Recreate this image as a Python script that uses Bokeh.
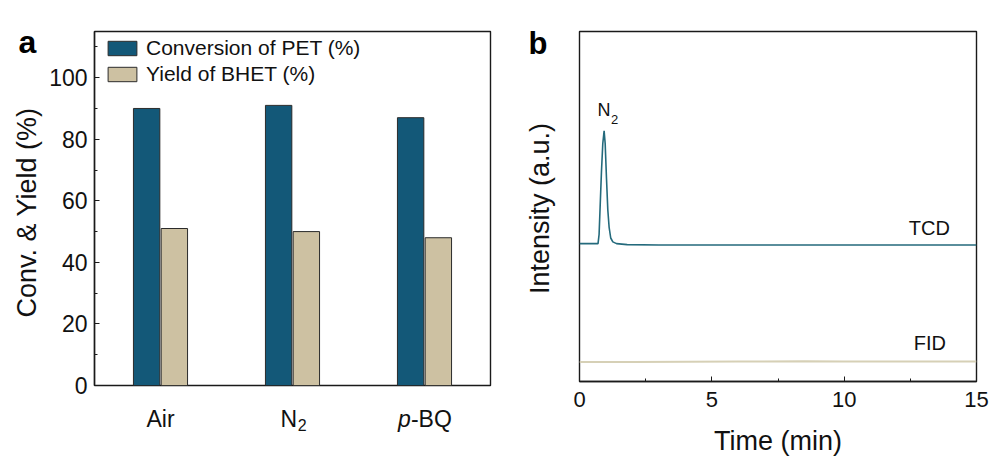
import math
from bokeh.plotting import figure
from bokeh.layouts import row, column
from bokeh.models import (Range1d, SingleIntervalTicker, Legend,
                          LegendItem, Label, ColumnDataSource)
from bokeh.core.properties import value
from bokeh.embed import file_html
from bokeh.resources import INLINE

# ---- panel a: conversion / yield under different atmospheres ----
conditions = ["Air", "N2", "p-BQ"]
conversion_pet = [90, 91, 87]
yield_bhet = [51, 50, 48]

# ---- panel b: GC traces of the gas phase ----
tcd_time = [0, 0.70, 0.74, 0.78, 0.83, 0.88, 0.93, 0.97, 1.02, 1.07, 1.12, 1.18, 1.26, 1.40, 1.80, 3.0, 15]
tcd_signal = [0.394, 0.394, 0.42, 0.50, 0.60, 0.68, 0.716, 0.68, 0.58, 0.49, 0.44, 0.41, 0.399, 0.394, 0.391, 0.390, 0.390]
fid_time = [0, 2.0, 6.0, 8.5, 10.0, 15]
fid_signal = [0.056, 0.056, 0.057, 0.058, 0.057, 0.057]

FONT = "Liberation Sans"
INK = "#111111"
BLUE = "#135878"
TAN = "#cdc1a2"
EDGE = "#2b2b2b"
TCD_COLOR = "#246a7c"
FID_COLOR = "#d6d0b6"
H = 458
PA_H = 398          # height of the bar-chart canvas
CAT_H = H - PA_H    # strip holding the category names


def strip(width, height, **kw):
    """Axis-less figure used to hold text that sits outside a plot frame."""
    s = figure(width=width, height=height, output_backend="svg", toolbar_location=None,
               title=None, x_axis_location=None, y_axis_location=None,
               min_border_top=0, min_border_bottom=0, frame_align=False, **kw)
    s.outline_line_color = None
    s.grid.visible = False
    s.border_fill_color = "white"
    s.background_fill_color = "white"
    return s


def style_frame(p, tick_size):
    p.outline_line_color = "#1a1a1a"
    p.outline_line_width = 1.4
    p.grid.visible = False
    p.background_fill_color = "white"
    p.border_fill_color = "white"
    for ax in p.axis:
        ax.axis_line_color = "#1a1a1a"
        ax.axis_line_width = 1.4
        ax.major_tick_line_color = "#1a1a1a"
        ax.minor_tick_line_color = "#1a1a1a"
        ax.major_tick_out = 0
        ax.minor_tick_out = 0
        ax.major_tick_in = 5
        ax.minor_tick_in = 3
        ax.major_label_text_font = FONT
        ax.major_label_text_font_size = tick_size
        ax.major_label_text_color = INK
        ax.axis_label_text_font = FONT
        ax.axis_label_text_font_size = "27px"
        ax.axis_label_text_font_style = "normal"
        ax.axis_label_text_color = INK


# ================= panel a =================
pa = figure(width=452, height=PA_H, output_backend="svg", toolbar_location=None, title=None,
            x_range=Range1d(0, 3), y_range=Range1d(0, 115),
            min_border_left=50, min_border_right=6, min_border_top=31, min_border_bottom=PA_H - 385)
style_frame(pa, "23px")
pa.xaxis.visible = False

centers = [i + 0.5 for i in range(len(conditions))]
src = ColumnDataSource(dict(
    x_conv=[c - 0.105 for c in centers],
    x_yield=[c + 0.105 for c in centers],
    conv=conversion_pet,
    yld=yield_bhet,
))
r_conv = pa.vbar(x="x_conv", top="conv", width=0.2, source=src,
                 fill_color=BLUE, line_color=EDGE, line_width=1)
r_yield = pa.vbar(x="x_yield", top="yld", width=0.2, source=src,
                  fill_color=TAN, line_color=EDGE, line_width=1)

pa.yaxis.ticker = SingleIntervalTicker(interval=20, num_minor_ticks=2)
pa.yaxis.major_label_standoff = 7

legend = Legend(items=[LegendItem(label="Conversion of PET (%)", renderers=[r_conv]),
                       LegendItem(label="Yield of BHET (%)", renderers=[r_yield])],
                location=(6, 295), padding=4, spacing=2,
                glyph_width=36, glyph_height=18, label_standoff=6,
                label_text_font=FONT, label_text_font_size="21px",
                label_text_color=INK, label_height=18,
                border_line_alpha=0, background_fill_alpha=0)
pa.add_layout(legend)

# category labels under panel a (subscript and italic parts drawn separately)
base = CAT_H - (418 - PA_H)
cat_strip = strip(452, CAT_H, x_range=pa.x_range, y_range=Range1d(0, CAT_H),
                  min_border_left=50, min_border_right=6)
cat_main = ColumnDataSource(dict(x=centers, y=[base] * 3, text=["Air", "N", "-BQ"],
                                 dx=[0, 4.5, -13.6], align=["center", "right", "left"]))
cat_strip.text(x="x", y="y", text="text", x_offset="dx", text_align="align", source=cat_main,
               text_font=value(FONT), text_font_size="23px", text_color=INK,
               text_baseline="alphabetic")
cat_strip.text(x=[centers[1]], y=[base - 6.7], text=["2"], x_offset=5.3, text_align="left",
               text_font=value(FONT), text_font_size="16px", text_color=INK,
               text_baseline="alphabetic")
cat_strip.text(x=[centers[2]], y=[base], text=["p"], x_offset=-13.6, text_align="right",
               text_font=value(FONT), text_font_size="23px", text_font_style="italic",
               text_color=INK, text_baseline="alphabetic")

# panel letter and y title to the left of panel a
left_a = strip(44, H, x_range=Range1d(0, 44), y_range=Range1d(0, H),
               min_border_left=0, min_border_right=0)
left_a.text(x=[27], y=[H - 41], text=["a"], text_align="center", text_baseline="alphabetic",
            text_font=value(FONT), text_font_size="32px", text_font_style="bold", text_color="black")
left_a.text(x=[26], y=[H - 212], text=["Conv. & Yield (%)"], angle=math.pi / 2,
            text_align="center", text_baseline="middle",
            text_font=value(FONT), text_font_size="27px", text_color=INK)

# ================= panel b =================
pb = figure(width=436, height=H, output_backend="svg", toolbar_location=None, title=None,
            x_range=Range1d(0, 15), y_range=Range1d(0, 1),
            min_border_left=23, min_border_right=16, min_border_top=31, min_border_bottom=73)
style_frame(pb, "22px")
pb.yaxis.visible = False

pb.line(fid_time, fid_signal, line_color=FID_COLOR, line_width=2)
pb.line(tcd_time, tcd_signal, line_color=TCD_COLOR, line_width=1.6)

pb.xaxis.ticker = SingleIntervalTicker(interval=5, num_minor_ticks=2)
pb.xaxis.major_label_standoff = 10
pb.xaxis.axis_label = "Time (min)"
pb.xaxis.axis_label_standoff = 16

ann_kw = dict(text_font=FONT, text_color=INK)
pb.add_layout(Label(x=0.93, y=0.746, text="N", text_align="right", x_offset=6.3,
                    text_font_size="18px", **ann_kw))
pb.add_layout(Label(x=0.93, y=0.746, text="2", text_align="left", x_offset=7.0, y_offset=-4,
                    text_font_size="13px", **ann_kw))
pb.add_layout(Label(x=13.22, y=0.408, text="TCD", text_align="center", text_font_size="20px", **ann_kw))
pb.add_layout(Label(x=13.24, y=0.08, text="FID", text_align="center", text_font_size="20px", **ann_kw))

left_b = strip(60, H, x_range=Range1d(0, 60), y_range=Range1d(0, H),
               min_border_left=0, min_border_right=0)
left_b.text(x=[41.5], y=[H - 43], text=["b"], text_align="center", text_baseline="alphabetic",
            text_font=value(FONT), text_font_size="31px", text_font_style="bold", text_color="black")
left_b.text(x=[43], y=[H - 208], text=["Intensity (a.u.)"], angle=math.pi / 2,
            text_align="center", text_baseline="middle",
            text_font=value(FONT), text_font_size="27px", text_color=INK)

layout = row(left_a, column(pa, cat_strip), left_b, pb)
open("out.html", "w").write(file_html(layout, INLINE))
